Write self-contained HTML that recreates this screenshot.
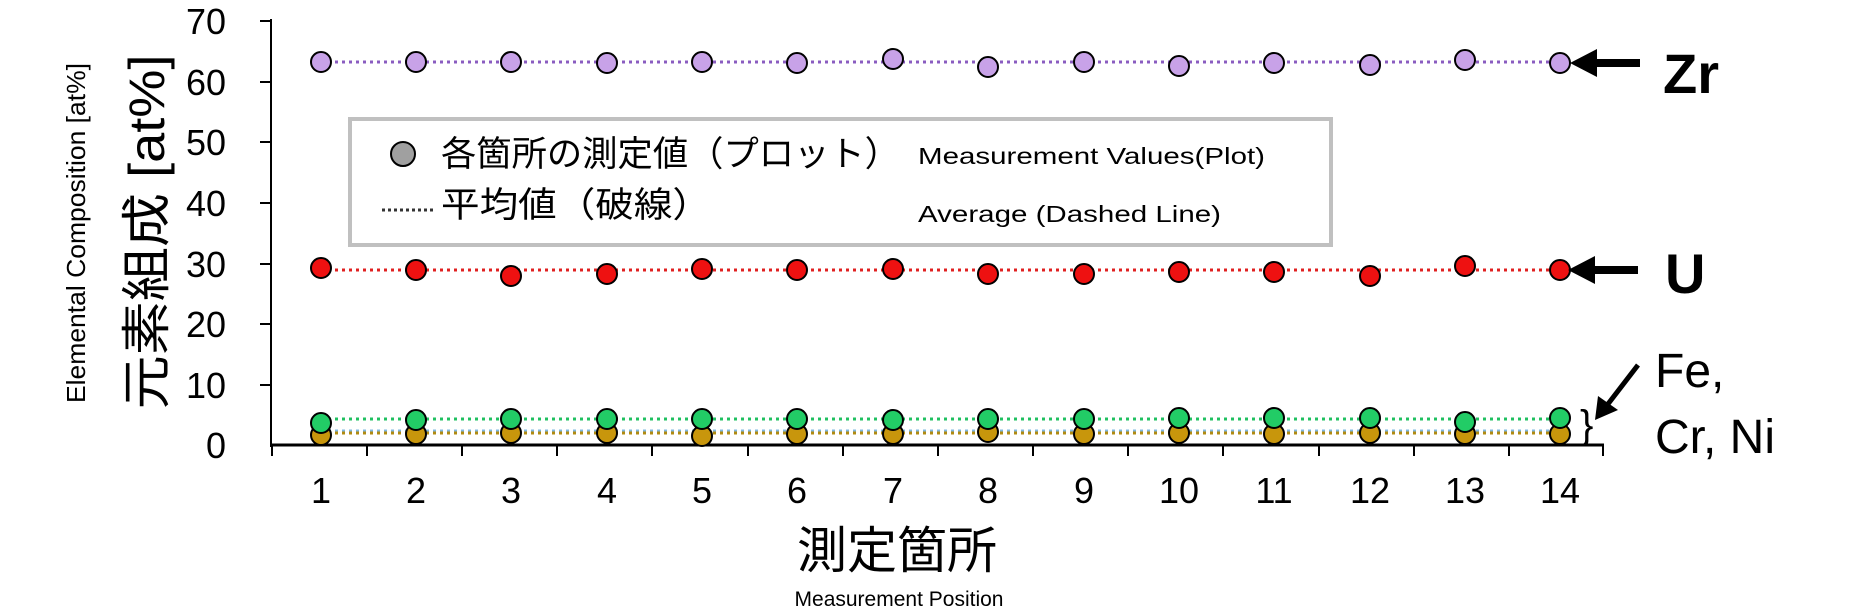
<!DOCTYPE html>
<html><head><meta charset="utf-8"><style>
html,body{margin:0;padding:0;background:#fff;width:1849px;height:611px;overflow:hidden}
svg{display:block}
text{font-family:"Liberation Sans","Noto Sans CJK JP",sans-serif;fill:#000}
</style></head><body>
<svg width="1849" height="611" viewBox="0 0 1849 611" xmlns="http://www.w3.org/2000/svg">
<line x1="271" y1="19" x2="271" y2="447" stroke="#000" stroke-width="2"/>
<line x1="271" y1="445" x2="1604" y2="445" stroke="#000" stroke-width="3"/>
<g stroke="#000" stroke-width="2">
<line x1="260" y1="21" x2="271" y2="21"/><line x1="260" y1="82" x2="271" y2="82"/>
<line x1="260" y1="142" x2="271" y2="142"/><line x1="260" y1="203" x2="271" y2="203"/>
<line x1="260" y1="264" x2="271" y2="264"/><line x1="260" y1="324" x2="271" y2="324"/>
<line x1="260" y1="385" x2="271" y2="385"/>
<line x1="272" y1="445" x2="272" y2="456"/><line x1="367" y1="445" x2="367" y2="456"/>
<line x1="462" y1="445" x2="462" y2="456"/><line x1="557" y1="445" x2="557" y2="456"/>
<line x1="652" y1="445" x2="652" y2="456"/><line x1="748" y1="445" x2="748" y2="456"/>
<line x1="843" y1="445" x2="843" y2="456"/><line x1="938" y1="445" x2="938" y2="456"/>
<line x1="1033" y1="445" x2="1033" y2="456"/><line x1="1128" y1="445" x2="1128" y2="456"/>
<line x1="1223" y1="445" x2="1223" y2="456"/><line x1="1319" y1="445" x2="1319" y2="456"/>
<line x1="1414" y1="445" x2="1414" y2="456"/><line x1="1509" y1="445" x2="1509" y2="456"/>
<line x1="1603" y1="445" x2="1603" y2="456"/>
</g>
<g font-size="36" text-anchor="end">
<text x="226" y="34">70</text><text x="226" y="95">60</text><text x="226" y="155">50</text>
<text x="226" y="216">40</text><text x="226" y="277">30</text><text x="226" y="337">20</text>
<text x="226" y="398">10</text><text x="226" y="458">0</text>
</g>
<g font-size="36" text-anchor="middle">
<text x="321" y="503">1</text><text x="416" y="503">2</text><text x="511" y="503">3</text>
<text x="607" y="503">4</text><text x="702" y="503">5</text><text x="797" y="503">6</text>
<text x="893" y="503">7</text><text x="988" y="503">8</text><text x="1084" y="503">9</text>
<text x="1179" y="503">10</text><text x="1274" y="503">11</text><text x="1370" y="503">12</text>
<text x="1465" y="503">13</text><text x="1560" y="503">14</text>
</g>
<text x="897" y="568" font-size="50" text-anchor="middle">測定箇所</text>
<text x="899" y="606" font-size="21" text-anchor="middle">Measurement Position</text>
<text transform="translate(164,232) rotate(-90)" font-size="50" text-anchor="middle" textLength="355" lengthAdjust="spacingAndGlyphs">元素組成 [at%]</text>
<text transform="translate(85,233) rotate(-90)" font-size="26" text-anchor="middle" textLength="340" lengthAdjust="spacingAndGlyphs">Elemental Composition [at%]</text>
<g stroke-width="3" stroke-dasharray="3,4" fill="none">
<line x1="321" y1="62" x2="1560" y2="62" stroke="#8a5cc0"/>
<line x1="321" y1="270" x2="1560" y2="270" stroke="#e02020"/>
<line x1="321" y1="419" x2="1560" y2="419" stroke="#20c060"/>
<line x1="321" y1="431" x2="1560" y2="431" stroke="#80b8e0"/>
<line x1="321" y1="433" x2="1560" y2="433" stroke="#b08a10"/>
</g>
<g stroke="#000" stroke-width="2">
<g fill="#c8a2e8">
<circle cx="321" cy="62" r="10"/><circle cx="416" cy="62" r="10"/><circle cx="511" cy="62" r="10"/>
<circle cx="607" cy="63" r="10"/><circle cx="702" cy="62" r="10"/><circle cx="797" cy="63" r="10"/>
<circle cx="893" cy="59" r="10"/><circle cx="988" cy="67" r="10"/><circle cx="1084" cy="62" r="10"/>
<circle cx="1179" cy="66" r="10"/><circle cx="1274" cy="63" r="10"/><circle cx="1370" cy="65" r="10"/>
<circle cx="1465" cy="60" r="10"/><circle cx="1560" cy="63" r="10"/>
</g>
<g fill="#ee1111">
<circle cx="321" cy="268" r="10"/><circle cx="416" cy="270" r="10"/><circle cx="511" cy="276" r="10"/>
<circle cx="607" cy="274" r="10"/><circle cx="702" cy="269" r="10"/><circle cx="797" cy="270" r="10"/>
<circle cx="893" cy="269" r="10"/><circle cx="988" cy="274" r="10"/><circle cx="1084" cy="274" r="10"/>
<circle cx="1179" cy="272" r="10"/><circle cx="1274" cy="272" r="10"/><circle cx="1370" cy="276" r="10"/>
<circle cx="1465" cy="266" r="10"/><circle cx="1560" cy="270" r="10"/>
</g>
<g fill="#c8960c">
<circle cx="321" cy="435" r="10"/><circle cx="416" cy="434" r="10"/><circle cx="511" cy="433" r="10"/>
<circle cx="607" cy="433" r="10"/><circle cx="702" cy="436" r="10"/><circle cx="797" cy="434" r="10"/>
<circle cx="893" cy="434" r="10"/><circle cx="988" cy="432" r="10"/><circle cx="1084" cy="434" r="10"/>
<circle cx="1179" cy="433" r="10"/><circle cx="1274" cy="434" r="10"/><circle cx="1370" cy="433" r="10"/>
<circle cx="1465" cy="434" r="10"/><circle cx="1560" cy="434" r="10"/>
</g>
<g fill="#22cc66">
<circle cx="321" cy="423" r="10"/><circle cx="416" cy="420" r="10"/><circle cx="511" cy="419" r="10"/>
<circle cx="607" cy="419" r="10"/><circle cx="702" cy="419" r="10"/><circle cx="797" cy="419" r="10"/>
<circle cx="893" cy="420" r="10"/><circle cx="988" cy="419" r="10"/><circle cx="1084" cy="419" r="10"/>
<circle cx="1179" cy="418" r="10"/><circle cx="1274" cy="418" r="10"/><circle cx="1370" cy="418" r="10"/>
<circle cx="1465" cy="422" r="10"/><circle cx="1560" cy="418" r="10"/>
</g>
</g>
<rect x="350" y="119" width="981" height="126" fill="#fff" stroke="#c0c0c0" stroke-width="4"/>
<circle cx="403" cy="154" r="12" fill="#a0a0a0" stroke="#000" stroke-width="2"/>
<text x="441" y="166" font-size="35" textLength="459" lengthAdjust="spacingAndGlyphs">各箇所の測定値（プロット）</text>
<text x="918" y="164" font-size="23" textLength="347" lengthAdjust="spacingAndGlyphs">Measurement Values(Plot)</text>
<line x1="382" y1="210" x2="436" y2="210" stroke="#333" stroke-width="3" stroke-dasharray="3,3"/>
<text x="441" y="217" font-size="35" textLength="270" lengthAdjust="spacingAndGlyphs">平均値（破線）</text>
<text x="918" y="222" font-size="23" textLength="303" lengthAdjust="spacingAndGlyphs">Average (Dashed Line)</text>
<g fill="#000">
<rect x="1594" y="59" width="46" height="8"/><polygon points="1570,63 1597,49 1597,77"/>
<rect x="1592" y="266" width="46" height="8"/><polygon points="1568,270 1595,256 1595,284"/>
</g>
<line x1="1638" y1="365" x2="1608" y2="404" stroke="#000" stroke-width="5"/>
<polygon points="1595,420 1598,396 1618,410" fill="#000"/>
<text x="1580" y="438" font-size="40">}</text>
<text x="1663" y="93" font-size="56" font-weight="bold">Zr</text>
<text x="1665" y="293" font-size="56" font-weight="bold">U</text>
<text x="1655" y="387" font-size="48">Fe,</text>
<text x="1655" y="453" font-size="48">Cr, Ni</text>
</svg>
</body></html>
